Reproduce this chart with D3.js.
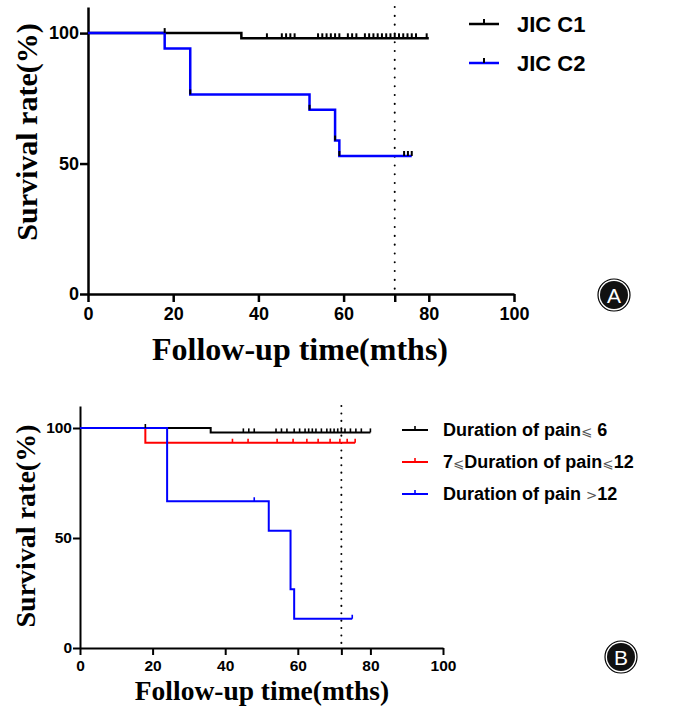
<!DOCTYPE html>
<html>
<head>
<meta charset="utf-8">
<script src="https://cdn.jsdelivr.net/npm/d3@7"></script>
<style>
  body { margin: 0; background: #fff; }
  svg { display: block; }
</style>
</head>
<body>
<div id="chart"></div>
<script>
// shared axis ticks
var xTicks = [0, 20, 40, 60, 72, 80, 100];
var yTicks = [0, 50, 100];
var landmark = 72;

// panel A: JIC groups
var c1Time = [0, 36, 80];
var c1Surv = [100, 98, 98];
var c1Censor = [18, 42, 45.5, 46.5, 47.5, 48.5, 54, 55, 56, 57, 58, 59, 61, 62, 63, 65, 66, 67, 68, 69, 70, 71, 72, 73, 74, 75, 76, 77, 79.5];
var c2Time = [0, 18, 24, 52, 58, 59, 76];
var c2Surv = [100, 94.1, 76.5, 70.6, 58.8, 52.9, 52.9];
var c2Censor = [24, 52, 58, 59, 74.2, 75.1, 76];

// panel B: duration of pain
var d6Time = [0, 36, 80];
var d6Surv = [100, 98, 98];
var d6Censor = [18, 45, 46.5, 48, 54, 55.5, 57, 59, 60.5, 62, 63, 64, 65, 66.5, 68, 69, 70, 71, 72, 73, 74.5, 76, 77.5, 80];
var d12Time = [0, 18, 75.8];
var d12Surv = [100, 93.3, 93.3];
var d12Censor = [42, 46.3, 54.3, 58.7, 62.5, 65.6, 68.9, 71.6, 73.6, 75.8];
var dgtTime = [0, 24, 52, 58, 59, 75];
var dgtSurv = [100, 66.7, 53.3, 26.7, 13.3, 13.3];
var dgtCensor = [48, 75];

var width = 676, height = 711;
var svg = d3.select("#chart").append("svg")
    .attr("width", width)
    .attr("height", height);

function survAt(times, surv, t) {
    var s = surv[0];
    for (var i = 0; i < times.length; i++) if (times[i] <= t) s = surv[i];
    return s;
}

function drawPanel(p) {
    var x = d3.scaleLinear().domain([0, 100]).range([p.left, p.right]);
    var y = d3.scaleLinear().domain([0, 110]).range([p.bottom, p.top]);
    var g = svg.append("g");

    // axes
    var xa = g.append("g")
        .attr("transform", "translate(0," + p.bottom + ")")
        .call(d3.axisBottom(x).tickValues(xTicks).tickSize(p.tick).tickSizeOuter(0)
            .tickFormat(d => d === landmark ? "" : d));
    var ya = g.append("g")
        .attr("transform", "translate(" + p.left + ",0)")
        .call(d3.axisLeft(y).tickValues(yTicks).tickSize(p.tick).tickSizeOuter(0));
    [xa, ya].forEach(a => {
        a.select(".domain").attr("stroke", "#000").attr("stroke-width", p.axisW);
        a.selectAll(".tick line").attr("stroke", "#000").attr("stroke-width", p.axisW);
        a.selectAll(".tick text")
            .attr("fill", "#000")
            .style("font-family", "'Liberation Sans', Arial, sans-serif")
            .style("font-weight", "bold")
            .style("font-size", p.tickFont + "px");
    });
    xa.selectAll(".tick text").attr("dy", "0").attr("y", p.tick + p.tickFont * 1.0);
    ya.selectAll(".tick text").attr("x", -p.tick - 1);

    // landmark line
    g.append("line")
        .attr("x1", x(landmark)).attr("x2", x(landmark))
        .attr("y1", y(110)).attr("y2", y(0))
        .attr("stroke", "#000")
        .attr("stroke-width", 2)
        .attr("stroke-linecap", "round")
        .attr("stroke-dasharray", p.dots);

    var line = d3.line().curve(d3.curveStepAfter).x(d => x(d[0])).y(d => y(d[1]));

    p.series.forEach(s => {
        var pts = s.time.map((t, i) => [t, s.surv[i]]);
        g.append("path")
            .attr("d", line(pts))
            .attr("fill", "none")
            .attr("stroke", s.color)
            .attr("stroke-width", p.lineW);
    });
    p.series.forEach(s => {
        g.selectAll(null)
            .data(s.censor)
            .enter().append("line")
            .attr("x1", d => x(d)).attr("x2", d => x(d))
            .attr("y1", d => y(survAt(s.time, s.surv, d)))
            .attr("y2", d => y(survAt(s.time, s.surv, d)) - p.censorH)
            .attr("stroke", s.tickColor)
            .attr("stroke-width", p.censorW);
    });

    // axis titles
    g.append("text")
        .attr("transform", "translate(" + p.yLabX + "," + p.yLabY + ") rotate(-90)")
        .attr("text-anchor", "middle")
        .style("font-family", "'Liberation Serif', 'Times New Roman', serif")
        .style("font-weight", "bold")
        .style("font-size", p.yLabFont + "px")
        .text("Survival rate(%)");
    g.append("text")
        .attr("x", p.xLabX).attr("y", p.xLabY)
        .attr("text-anchor", "middle")
        .style("font-family", "'Liberation Serif', 'Times New Roman', serif")
        .style("font-weight", "bold")
        .style("font-size", p.xLabFont + "px")
        .text("Follow-up time(mths)");

    // legend
    p.series.forEach((s, i) => {
        var ly = p.legY + i * p.legGap;
        g.append("line")
            .attr("x1", p.legX).attr("x2", p.legX + p.legLen)
            .attr("y1", ly).attr("y2", ly)
            .attr("stroke", s.color).attr("stroke-width", p.lineW);
        g.append("line")
            .attr("x1", p.legX + p.legLen / 2).attr("x2", p.legX + p.legLen / 2)
            .attr("y1", ly).attr("y2", ly - p.censorH)
            .attr("stroke", s.tickColor).attr("stroke-width", p.censorW);
        var t = g.append("text")
            .attr("x", p.legTextX).attr("y", ly + p.legFont * 0.36)
            .style("font-family", "'Liberation Sans', Arial, sans-serif")
            .style("font-weight", "bold")
            .style("font-size", p.legFont + "px")
            .attr("fill", "#000");
        s.label.forEach(part => {
            var ts = t.append("tspan").text(part.t);
            if (part.sym) {
                ts.style("font-weight", "normal")
                  .style("font-family", "'DejaVu Sans', sans-serif")
                  .style("font-size", (p.legFont * 0.75) + "px")
                  .attr("fill", "#555");
            }
        });
    });

    // panel badge
    var b = g.append("g").attr("transform", "translate(" + p.badgeX + "," + p.badgeY + ")");
    b.append("circle").attr("r", 16).attr("fill", "#fff").attr("stroke", "#000").attr("stroke-width", 1.2);
    b.append("circle").attr("r", 14).attr("fill", "#111");
    b.append("text")
        .attr("text-anchor", "middle")
        .attr("y", 7.5)
        .attr("fill", "#fff")
        .style("font-family", "'Liberation Sans', Arial, sans-serif")
        .style("font-size", "21px")
        .text(p.badge);
}

drawPanel({
    left: 88, right: 514, top: 7, bottom: 294,
    tick: 8, axisW: 2.5, lineW: 2.5, censorW: 2, censorH: 5, tickFont: 18,
    dots: "0.1,8.7",
    yLabX: 37, yLabY: 132, yLabFont: 30,
    xLabX: 300, xLabY: 360, xLabFont: 32,
    legX: 469, legLen: 30, legY: 24, legGap: 39, legTextX: 517, legFont: 22,
    badge: "A", badgeX: 614, badgeY: 295,
    series: [
        { time: c1Time, surv: c1Surv, censor: c1Censor, color: "#000", tickColor: "#000", label: [{ t: "JIC C1" }] },
        { time: c2Time, surv: c2Surv, censor: c2Censor, color: "#0000ff", tickColor: "#000", label: [{ t: "JIC C2" }] }
    ]
});

drawPanel({
    left: 80, right: 443, top: 406, bottom: 648,
    tick: 7, axisW: 2, lineW: 2, censorW: 1.6, censorH: 4, tickFont: 15.5,
    dots: "0.1,7.3",
    yLabX: 35, yLabY: 526, yLabFont: 28,
    xLabX: 262, xLabY: 700, xLabFont: 27.5,
    legX: 402, legLen: 26, legY: 430, legGap: 32, legTextX: 443, legFont: 18,
    badge: "B", badgeX: 621, badgeY: 657,
    series: [
        { time: d6Time, surv: d6Surv, censor: d6Censor, color: "#000", tickColor: "#000",
          label: [{ t: "Duration of pain" }, { t: "⩽", sym: true }, { t: " 6" }] },
        { time: d12Time, surv: d12Surv, censor: d12Censor, color: "#ff0000", tickColor: "#ff0000",
          label: [{ t: "7" }, { t: "⩽", sym: true }, { t: "Duration of pain" }, { t: "⩽", sym: true }, { t: "12" }] },
        { time: dgtTime, surv: dgtSurv, censor: dgtCensor, color: "#0000ff", tickColor: "#0000ff",
          label: [{ t: "Duration of pain " }, { t: ">", sym: true }, { t: "12" }] }
    ]
});
</script>
</body>
</html>
